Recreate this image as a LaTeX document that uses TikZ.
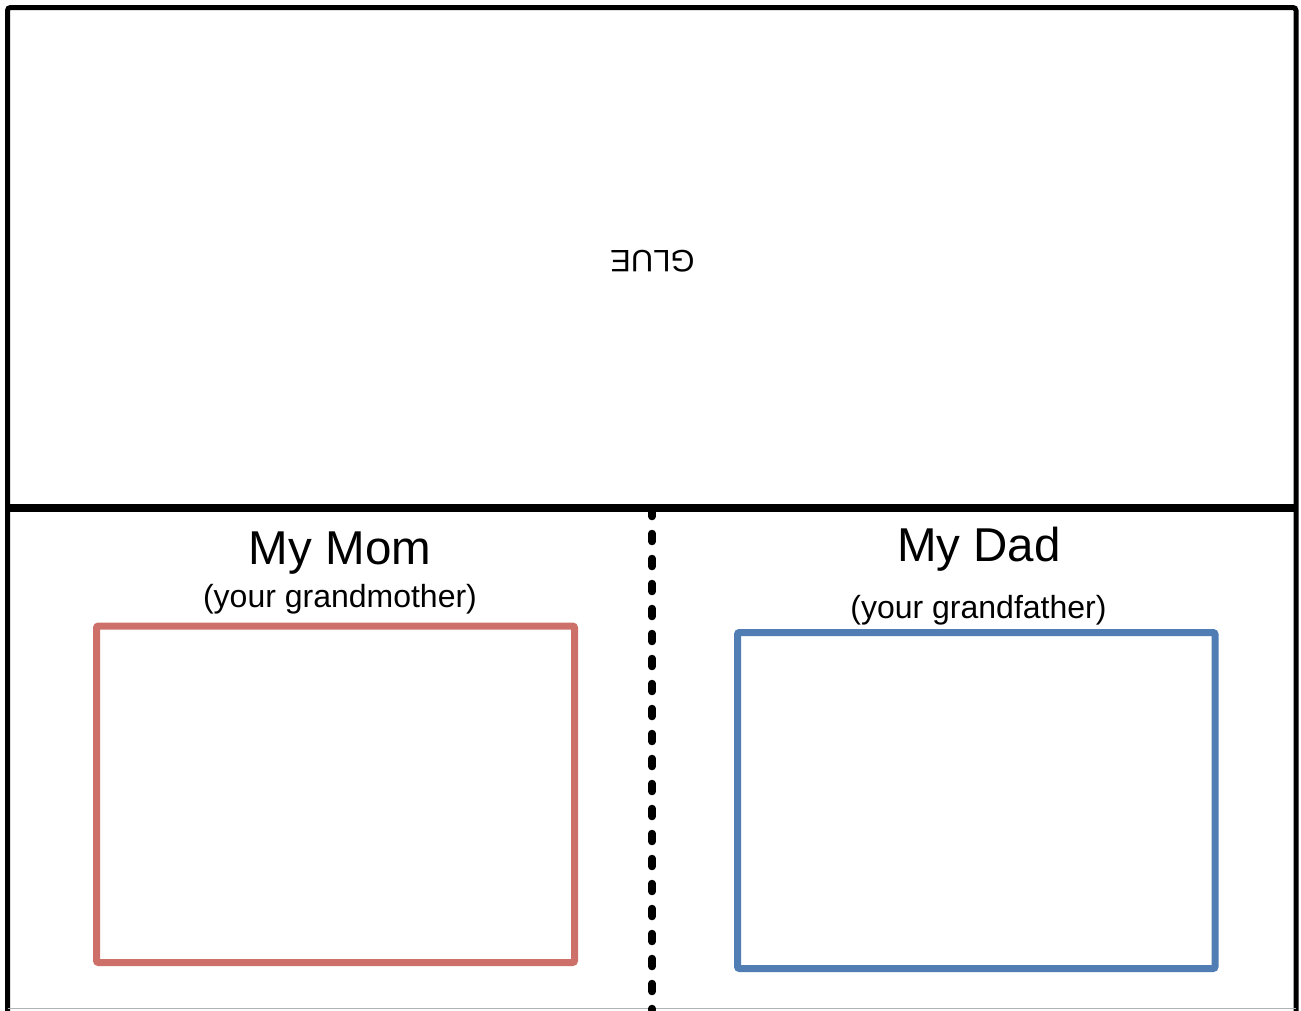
\documentclass[tikz,border=0pt]{standalone}
\usepackage{fontspec}
\setmainfont{Liberation Sans}
\definecolor{momred}{RGB}{205,112,106}
\definecolor{dadblue}{RGB}{79,125,180}
\tikzset{
  frameline/.style={line width=5pt, black, rounded corners=3pt},
  foldline/.style={line width=8pt, black},
  cutline/.style={line width=7.5pt, black, line cap=round, dash pattern=on 8pt off 17pt, dash phase=24.5pt},
  photobox/.style={line width=7pt, rounded corners=2pt},
  title/.style={font=\fontsize{47.5}{50}\selectfont, anchor=base, inner sep=0pt},
  subtitle/.style={font=\fontsize{32}{36}\selectfont, anchor=base, inner sep=0pt},
}
\begin{document}
\begin{tikzpicture}[x=1pt,y=-1pt]
\useasboundingbox (0,0) rectangle (1301,1010);
\fill[white] (0,0) rectangle (1301,1010);
% outer frame (bottom runs off the page)
\draw[frameline] (7.5,1030) -- (7.5,7.5) -- (1296,7.5) -- (1296,1030);
\draw[gray!60, line width=1pt] (7.5,1008.5) -- (1296,1008.5);
% dashed cut line
\coordinate (cuttop) at (652,508);
\coordinate (cutbot) at (652,1010);
\draw[cutline] (cuttop) -- (cutbot);
% fold line
\coordinate (foldL) at (7.5,507.5);
\coordinate (foldR) at (1297,507.5);
\draw[foldline] (foldL) -- (foldR);
% glue label
\node[subtitle, font=\fontsize{31}{34}\selectfont, rotate=180] (glue) at (652.5,250) {GLUE};
% mom
\node[title] (mom) at (340,564.5) {My Mom};
\node[subtitle] (momsub) at (340,607) {(your grandmother)};
\draw[photobox, momred] (96.5,626) rectangle (574.5,962.5);
% dad
\node[title] (dad) at (979,561.5) {My Dad};
\node[subtitle] (dadsub) at (978.5,618) {(your grandfather)};
\draw[photobox, dadblue] (737.5,632.5) rectangle (1215,968.5);
\end{tikzpicture}
\end{document}
